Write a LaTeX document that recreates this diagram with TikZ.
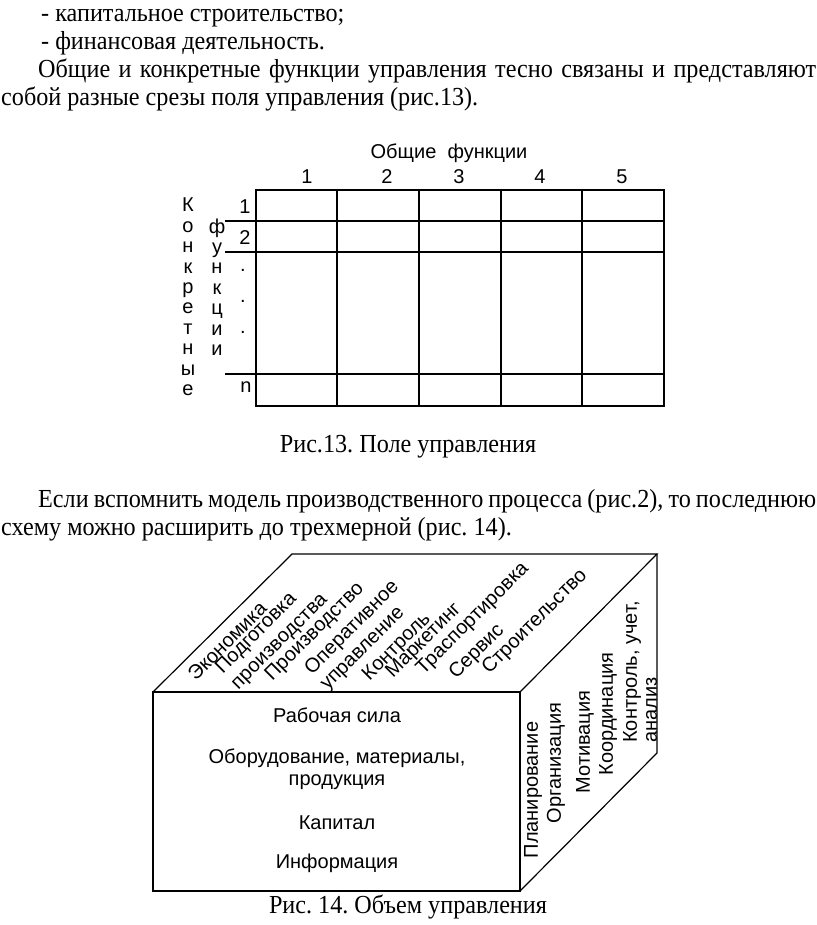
\documentclass[tikz,border=0pt]{standalone}
\usepackage{fontspec}
\setmainfont{Liberation Serif}[FakeStretch=0.93]
\setsansfont{Liberation Sans}
\frenchspacing
\begin{document}
\begin{tikzpicture}[x=1pt,y=-1pt,
  txt/.style={inner sep=0pt,font=\fontsize{26}{28.3}\selectfont},
  lbl/.style={inner sep=0pt,font=\sffamily\fontsize{20}{22}\selectfont},
  vlbl/.style={inner sep=0pt,align=center,font=\sffamily\fontsize{20}{20.4}\selectfont},
  box/.style={line width=1.2pt}]
\useasboundingbox (0,0) rectangle (816,925);

\node[txt,anchor=base west] (l1) at (41,22) {- капитальное строительство;};
\node[txt,anchor=base west] (l2) at (41,50) {- финансовая деятельность.};
\node[txt,anchor=base west] (l3) at (38,78)
  {\makebox[778pt][s]{Общие и конкретные функции управления тесно связаны и представляют}};
\node[txt,anchor=base west] (l4) at (1,106) {собой разные срезы поля управления (рис.13).};

% field
\draw[box] (256,190) rectangle (664,406);
\foreach \x in {337,419,501,582}
  \draw[box] (\x,190) -- (\x,406);
\foreach \y in {221,252,374}
  \draw[box] (225,\y) -- (664,\y);

\node[lbl] (gen) at (449,153) {Общие\ \ функции};
\foreach \x/\n in {307/1,387/2,459/3,540/4,622/5}
  \node[lbl] (col\n) at (\x,177) {\n};

\node[lbl] (row1) at (245,207) {1};
\node[lbl] (row2) at (245,238) {2};
\foreach \y [count=\i] in {270,301,332}
  \node[lbl] (dot\i) at (243,\y) {.};
\node[lbl] (rown) at (246,387) {n};

\node[vlbl] (conc) at (188,297) {К\\о\\н\\к\\р\\е\\т\\н\\ы\\е};
\node[vlbl] (func) at (217,287) {ф\\у\\н\\к\\ц\\и\\и};

\node[txt,anchor=base] (cap13) at (408,452) {Рис.13. Поле управления};

\node[txt,anchor=base west] (l5) at (38,507)
  {\makebox[778pt][s]{Если вспомнить модель производственного процесса (рис.2), то последнюю}};
\node[txt,anchor=base west] (l6) at (1,535) {схему можно расширить до трехмерной (рис. 14).};

% volume
\coordinate (fa) at (153,692);
\coordinate (fb) at (520,692);
\coordinate (fc) at (520,891);
\coordinate (ba) at (292,554);
\coordinate (bb) at (657,554);
\coordinate (bc) at (657,753);
\draw[box] (fa) rectangle (fc);
\draw[box] (fa) -- (ba) -- (bb) -- (fb);
\draw[box] (bb) -- (bc) -- (fc);

\foreach \x/\y/\t [count=\i] in {227/641/Экономика,
    272/634/{Подготовка\\производства},
    315/632/Производство,
    360/636/{Оперативное\\управление},
    397/647/Контроль,
    424/641/Маркетинг,
    473/619/Траспортировка,
    477/652/Сервис,
    535/622/Строительство}
  \node[lbl,align=left,rotate=45] (top\i) at (\x,\y) {\t};

\node[lbl] (work) at (337,715) {Рабочая сила};
\node[lbl,align=center] (equip) at (337,769) {Оборудование, материалы,\\продукция};
\node[lbl] (capit) at (337,823) {Капитал};
\node[lbl] (info) at (337,863) {Информация};

\node[lbl,rotate=90] (plan) at (533,790) {Планирование};
\node[lbl,rotate=90] (org) at (556,763) {Организация};
\node[lbl,rotate=90] (motiv) at (585,742) {Мотивация};
\node[lbl,rotate=90] (coord) at (608,714) {Координация};
\node[lbl,rotate=90,align=left,font=\sffamily\fontsize{20}{20}\selectfont]
  (ctrl) at (640,672) {Контроль, учет,\\анализ};

\node[txt,anchor=base] (cap14) at (408,913) {Рис. 14. Объем управления};
\end{tikzpicture}
\end{document}
